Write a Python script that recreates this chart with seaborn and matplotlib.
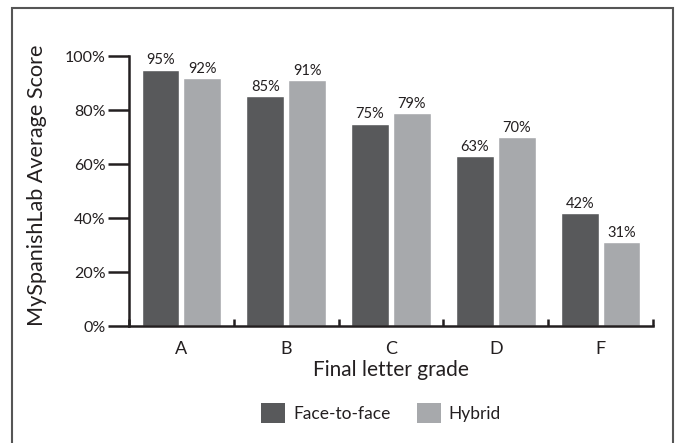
import matplotlib
matplotlib.use('Agg')
import matplotlib.pyplot as plt
import matplotlib.patches as mpatches
import pandas as pd
import seaborn as sns

grades = ['A', 'B', 'C', 'D', 'F']
face_to_face = [95, 85, 75, 63, 42]
hybrid = [92, 91, 79, 70, 31]
series_names = ['Face-to-face', 'Hybrid']
y_ticks = [0, 20, 40, 60, 80, 100]
y_tick_labels = ['0%', '20%', '40%', '60%', '80%', '100%']

DARK = '#58595b'
LIGHT = '#a7a9ac'
TEXT = '#231f20'


def main():
    sns.set_style('white')
    plt.rcParams['font.family'] = ['Lato', 'DejaVu Sans']

    df = pd.DataFrame({
        'grade': grades * 2,
        'score': face_to_face + hybrid,
        'group': [series_names[0]] * len(grades) + [series_names[1]] * len(grades),
    })

    fig = plt.figure(figsize=(6.76, 4.43), dpi=100)
    ax = fig.add_axes([129 / 676, 1 - 326 / 443, 524 / 676, 270 / 443])

    sns.barplot(data=df, x='grade', y='score', hue='group', order=grades,
                hue_order=series_names, palette=[DARK, LIGHT],
                width=0.8, gap=0.1, saturation=1, legend=False, ax=ax)

    for cont in ax.containers:
        ax.bar_label(cont, fmt='%d%%', padding=1.5, fontsize=10.5, color=TEXT,
                     clip_on=False)

    ax.set_ylim(0, 100)
    ax.set_xlim(-0.5, len(grades) - 0.5)
    ax.set_yticks(y_ticks)
    ax.set_yticklabels(y_tick_labels, fontsize=11.5, color=TEXT)
    ax.tick_params(axis='y', direction='out', length=15, width=1.8,
                   color=TEXT, pad=2, left=True)
    ax.tick_params(axis='x', which='major', length=0, pad=11,
                   labelsize=13, labelcolor=TEXT)
    ax.set_xticks([i + 0.5 for i in range(-1, len(grades))], minor=True)
    ax.tick_params(axis='x', which='minor', direction='in', length=5,
                   width=1.8, color=TEXT, bottom=True)

    for side in ['top', 'right']:
        ax.spines[side].set_visible(False)
    for side in ['left', 'bottom']:
        ax.spines[side].set_linewidth(1.8)
        ax.spines[side].set_color(TEXT)

    ax.set_ylabel('MySpanishLab Average Score', fontsize=15.6, color=TEXT)
    ax.yaxis.set_label_coords(-0.156, 0.52)
    ax.set_xlabel('Final letter grade', fontsize=15, color=TEXT)
    ax.xaxis.set_label_coords(0.5, -0.125)

    handles = [mpatches.Patch(facecolor=DARK, edgecolor='none'),
               mpatches.Patch(facecolor=LIGHT, edgecolor='none')]
    fig.legend(handles, series_names, loc='center', ncol=2,
               bbox_to_anchor=(381 / 676, 1 - 413 / 443), frameon=False,
               fontsize=12.5, handlelength=1.4, handleheight=1.4,
               columnspacing=1.5, handletextpad=0.45, labelcolor=TEXT)

    border = mpatches.Rectangle((12 / 676, -0.05), 661 / 676, 1.05 - 8 / 443,
                                transform=fig.transFigure, fill=False,
                                edgecolor='#555555', linewidth=1.5)
    fig.patches.append(border)

    fig.savefig('out.png', dpi=100)


if __name__ == '__main__':
    main()
